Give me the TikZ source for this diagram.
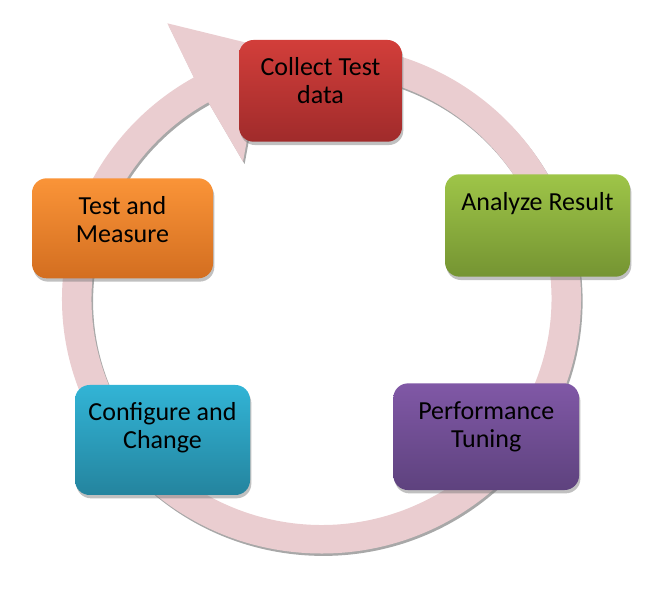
\documentclass[tikz,border=0pt]{standalone}
\usepackage{fontspec}
\setmainfont{Carlito}
\usetikzlibrary{calc,shadows}
\definecolor{ringc}{RGB}{234,205,208}
\definecolor{ringsh}{RGB}{168,168,168}
\definecolor{redTop}{RGB}{210,62,58}
\definecolor{redBot}{RGB}{160,43,43}
\definecolor{orTop}{RGB}{250,148,56}
\definecolor{orBot}{RGB}{211,110,32}
\definecolor{grTop}{RGB}{158,197,72}
\definecolor{grBot}{RGB}{117,148,50}
\definecolor{blTop}{RGB}{50,180,214}
\definecolor{blBot}{RGB}{36,132,158}
\definecolor{puTop}{RGB}{128,88,166}
\definecolor{puBot}{RGB}{94,66,126}
\newcommand\myringpath{($(C)+({259.5*cos(85)},{254.5*sin(85)})$) arc[start angle=85,end angle=-240.5,x radius=259.5,y radius=254.5] -- (Hout) -- (Htip) -- (Hin) -- ($(C)+({230*cos(-240.5)},{226*sin(-240.5)})$) arc[start angle=-240.5,end angle=85,x radius=230,y radius=226] -- cycle}
\tikzset{
  box/.style={rounded corners=11pt, inner sep=0pt,
    drop shadow={shadow xshift=1pt, shadow yshift=-2.5pt, opacity=0.45, fill=black!55}},
  lbl/.style={inner sep=0pt, font=\fontsize{19.5}{21}\selectfont, anchor=base, text=black}
}
\begin{document}
\begin{tikzpicture}[x=0.75pt,y=0.75pt]
\useasboundingbox (0,0) rectangle (661,592);
\coordinate (C) at (321.5,293);
\coordinate (Hout) at (167.3,568.7);
\coordinate (Htip) at (264,545);
\coordinate (Hin) at (243,430.3);
% ring shadow
\begin{scope}[transform canvas={xshift=1.2pt,yshift=-1.8pt}]
  \fill[ringsh] \myringpath;
\end{scope}
% ring with arrow head
\fill[ringc] \myringpath;
% boxes
\node[box, minimum width=122.25pt, minimum height=76.3pt, top color=redTop, bottom color=redBot] (collect) at (320.5,501.15) {};
\node[lbl] (collectT) at ([yshift=-27pt]collect.north) {\parbox[t]{120pt}{\centering Collect Test\\data}};
\node[box, minimum width=138.75pt, minimum height=76.8pt, top color=grTop, bottom color=grBot] (analyze) at (537.5,366.5) {};
\node[lbl] (analyzeT) at ([yshift=-27pt]analyze.north) {\parbox[t]{136pt}{\centering Analyze Result}};
\node[box, minimum width=139.3pt, minimum height=80pt, top color=puTop, bottom color=puBot] (perf) at (486.2,155.3) {};
\node[lbl] (perfT) at ([yshift=-27pt]perf.north) {\parbox[t]{136pt}{\centering Performance\\Tuning}};
\node[box, minimum width=131.25pt, minimum height=82.5pt, top color=blTop, bottom color=blBot] (config) at (162.5,152) {};
\node[lbl] (configT) at ([yshift=-27pt]config.north) {\parbox[t]{130pt}{\centering Configure and\\Change}};
\node[box, minimum width=135.75pt, minimum height=75pt, top color=orTop, bottom color=orBot] (test) at (122.5,363.7) {};
\node[lbl] (testT) at ([yshift=-27pt]test.north) {\parbox[t]{130pt}{\centering Test and\\Measure}};
\end{tikzpicture}
\end{document}
